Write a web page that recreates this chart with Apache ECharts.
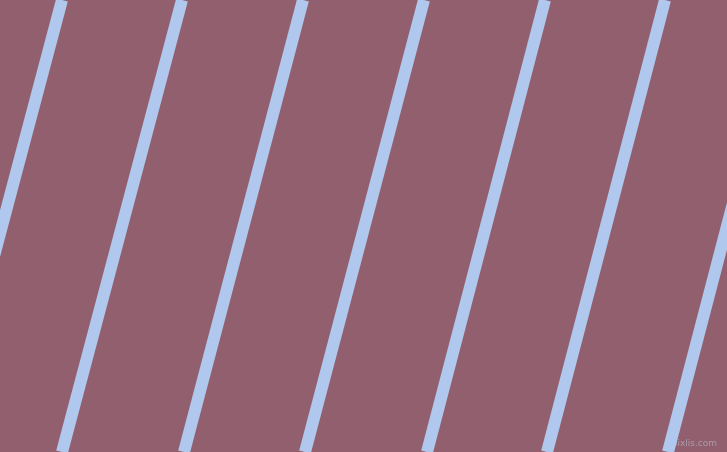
<!DOCTYPE html>
<html>
<head>
    <meta charset="utf-8">
    <title>stripes</title>
    <script type="text/javascript" src="https://cdn.jsdelivr.net/npm/echarts@6/dist/echarts.min.js"></script>
    <style>
        html, body { margin: 0; padding: 0; background: #925f6e; }
    </style>
</head>
<body>
    <div id="main" style="width: 727px;height:452px;"></div>
    <script type="text/javascript">
        // x where each stripe meets the top edge and the bottom edge (pixels)
        var topX = [62, 182, 303, 424, 545, 665, 786];
        var bottomX = [-58, 62, 184, 305, 427, 547, 668];
        var canvasW = 727;
        var canvasH = 452;

        var series = [];
        for (var i = 0; i < topX.length; i++) {
            series.push({
                type: 'line',
                symbol: 'none',
                silent: true,
                clip: true,
                lineStyle: { color: '#b0c8ee', width: 12, cap: 'butt' },
                data: [[bottomX[i], 0], [topX[i], canvasH]]
            });
        }

        var myChart = echarts.init(document.getElementById('main'));
        var option = {
            backgroundColor: '#925f6e',
            animation: false,
            grid: { left: 0, right: 0, top: 0, bottom: 0 },
            xAxis: { type: 'value', min: 0, max: canvasW, show: false },
            yAxis: { type: 'value', min: 0, max: canvasH, show: false },
            graphic: [{
                type: 'text',
                right: 10,
                bottom: 4,
                style: {
                    text: 'pixlis.com',
                    fill: '#ab9aaa',
                    font: '9px "DejaVu Sans"'
                }
            }],
            series: series
        };
        myChart.setOption(option);
    </script>
</body>
</html>
